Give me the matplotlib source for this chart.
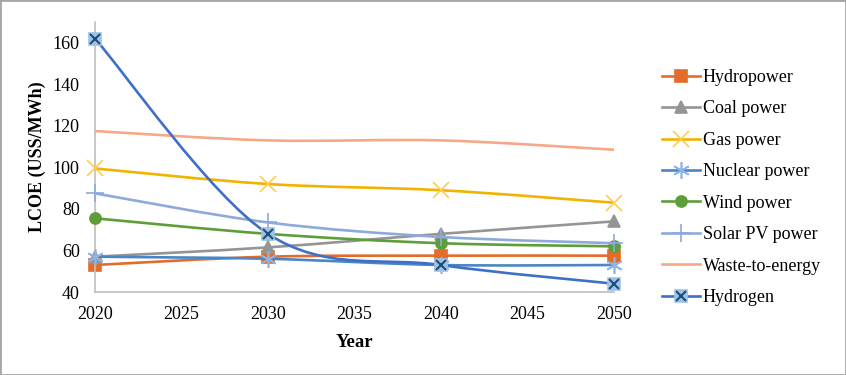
import matplotlib
matplotlib.use('Agg')
import matplotlib.pyplot as plt
from matplotlib.path import Path
from matplotlib.patches import PathPatch, Rectangle
from matplotlib.lines import Line2D

plt.rcParams['font.family'] = ['Liberation Serif', 'DejaVu Serif']

# data (LCOE, US$/MWh)
years = [2020, 2030, 2040, 2050]
hydropower = [53, 57, 57.5, 57.5]
coal_power = [57, 61.5, 68, 74]
gas_power = [99.5, 92, 89, 83]
nuclear_power = [57, 56, 53, 53]
wind_power = [75.5, 68, 63.5, 62]
solar_pv_power = [87.5, 73.5, 66.5, 63.5]
waste_to_energy = [117.5, 113, 113, 108.5]
hydrogen = [162, 68, 53, 44]

names = ['Hydropower', 'Coal power', 'Gas power', 'Nuclear power',
         'Wind power', 'Solar PV power', 'Waste-to-energy', 'Hydrogen']
series = [hydropower, coal_power, gas_power, nuclear_power,
          wind_power, solar_pv_power, waste_to_energy, hydrogen]

# styles: line colour, marker, marker face, marker edge, marker size
styles = [
    ('#E36C2A', 's', '#E36C2A', '#E36C2A', 8),
    ('#959595', '^', '#959595', '#959595', 8),
    ('#F0B400', 'x', 'none', '#FFCC4D', 11),
    ('#4A86C5', (6, 2, 0), 'none', '#8DB4E2', 12),
    ('#5E9E3A', 'o', '#5E9E3A', '#5E9E3A', 8),
    ('#8EA9DB', '+', 'none', '#8EA9DB', 13),
    ('#F4A888', None, 'none', '#F4A888', 0),
    ('#3F6FC6', 's', '#9DC3E6', '#9DC3E6', 8),
]


def smooth_path(xs, ys):
    # Excel-style smoothed line as cubic Bezier segments
    pts = list(zip(xs, ys))
    n = len(pts)
    verts = [pts[0]]
    codes = [Path.MOVETO]
    for i in range(n - 1):
        p0 = pts[i - 1] if i > 0 else pts[i]
        p1 = pts[i]
        p2 = pts[i + 1]
        p3 = pts[i + 2] if i + 2 < n else pts[i + 1]
        c1 = (p1[0] + (p2[0] - p0[0]) / 6, p1[1] + (p2[1] - p0[1]) / 6)
        c2 = (p2[0] - (p3[0] - p1[0]) / 6, p2[1] - (p3[1] - p1[1]) / 6)
        verts += [c1, c2, p2]
        codes += [Path.CURVE4] * 3
    return Path(verts, codes)


fig = plt.figure(figsize=(8.46, 3.75), dpi=100)
ax = fig.add_axes([0.1123, 0.2213, 0.6135, 0.72])

handles = []
for k, (name, vals, st) in enumerate(zip(names, series, styles)):
    color, mk, mfc, mec, ms = st
    patch = PathPatch(smooth_path(years, vals), fill=False, edgecolor=color,
                      lw=1.9, transform=ax.transData, zorder=2 + k,
                      capstyle='butt')
    ax.add_patch(patch)
    if mk is not None:
        ax.plot(years, vals, linestyle='none', marker=mk, ms=ms, mfc=mfc,
                mec=mec, mew=1.2, zorder=2.5 + k, clip_on=False)
    h = Line2D([0], [0], color=color, lw=1.9, marker=mk,
               ms=ms if mk else 0, mfc=mfc, mec=mec, mew=1.2)
    if name == 'Hydrogen':
        ax.plot(years, vals, linestyle='none', marker='x', ms=7,
                mec='#1F4E79', mew=1.5, zorder=2.6 + k, clip_on=False)
        hx = Line2D([0], [0], linestyle='none', marker='x', ms=7,
                    mec='#1F4E79', mew=1.5)
        h = (h, hx)
    handles.append(h)

ax.set_xlim(2020, 2050)
ax.set_ylim(40, 170)
ax.set_xticks(range(2020, 2051, 5))
ax.set_yticks(range(40, 161, 20))
ax.tick_params(length=0, labelsize=13, colors='#000000')
ax.tick_params(axis='x', pad=10)
ax.tick_params(axis='y', pad=11)
for side in ['top', 'right']:
    ax.spines[side].set_visible(False)
for side in ['left', 'bottom']:
    ax.spines[side].set_color('#BFBFBF')
    ax.spines[side].set_linewidth(1.2)

ax.set_xlabel('Year', fontsize=13.5, fontweight='bold', labelpad=8)
ax.set_ylabel('LCOE (USS/MWh)', fontsize=13, fontweight='bold', labelpad=5)

fig.legend(handles, names, loc='center left', bbox_to_anchor=(0.7825, 0.5),
           frameon=False, fontsize=13, handlelength=2.1, handletextpad=0.17,
           labelspacing=0.8, borderpad=0, borderaxespad=0)

fig.patches.append(Rectangle((0, 0), 1, 1, transform=fig.transFigure,
                             fill=False, edgecolor='#A6A6A6', lw=2))

fig.savefig('out.png', dpi=100)
